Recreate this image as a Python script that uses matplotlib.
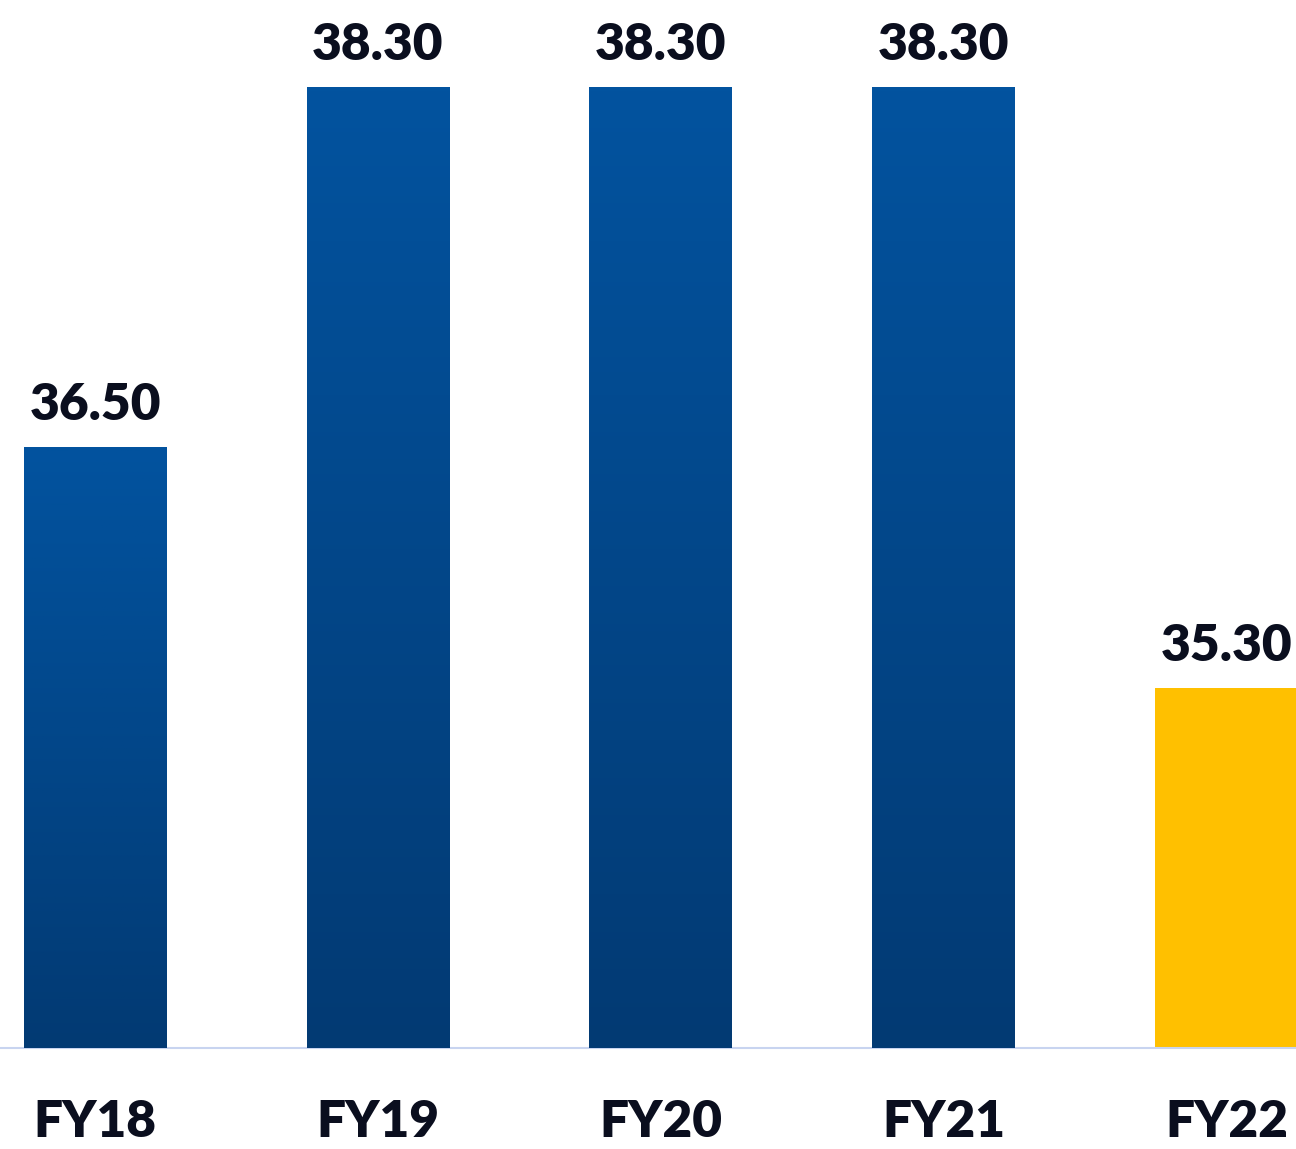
import numpy as np
import matplotlib
matplotlib.use("Agg")
from matplotlib import pyplot as plt
from matplotlib.colors import LinearSegmentedColormap

# data
categories = ["FY18", "FY19", "FY20", "FY21", "FY22"]
values = [36.50, 38.30, 38.30, 38.30, 35.30]
highlight = [False, False, False, False, True]

BLUE_TOP = "#02539F"
BLUE_BOT = "#023A73"
YELLOW = "#FFC000"
TEXT = "#0A0E1E"

plt.rcParams['font.family'] = ['Lato', 'DejaVu Sans']

fig = plt.figure(figsize=(12.96, 11.49), dpi=100)
ax = fig.add_axes([0, 1 - 1048 / 1149, 1, 1048 / 1149])

ymin = 33.5
x = np.arange(len(categories))
bars = ax.bar(x, [v - ymin for v in values], bottom=ymin, width=0.505,
              color=[YELLOW if h else BLUE_TOP for h in highlight], zorder=2)

# vertical gradient for the blue bars
cmap = LinearSegmentedColormap.from_list("bl", [BLUE_BOT, BLUE_TOP])
grad = np.linspace(0, 1, 256).reshape(-1, 1)
for b, h in zip(bars, highlight):
    if h:
        continue
    x0, w = b.get_x(), b.get_width()
    y0, hh = b.get_y(), b.get_height()
    im = ax.imshow(grad, cmap=cmap, origin="lower", aspect="auto",
                   extent=[x0, x0 + w, y0, y0 + hh], zorder=3)
    im.set_clip_path(b)

for xi, v in zip(x, values):
    ax.text(xi, v + 0.095, f"{v:.2f}", ha="center", va="bottom",
            fontsize=37, fontweight="heavy", color=TEXT)

ax.set_xlim(-0.336, 4.245)
ax.set_ylim(ymin, 38.3 + 87 / 200)
ax.set_xticks(x)
ax.set_xticklabels(categories, fontsize=37, fontweight="heavy", color=TEXT)
ax.tick_params(axis="x", length=0, pad=37)
ax.set_yticks([])
for s in ["top", "right", "left"]:
    ax.spines[s].set_visible(False)
ax.spines["bottom"].set_color("#C8D4F0")
ax.spines["bottom"].set_linewidth(1.5)

fig.savefig("out.png", dpi=100)
